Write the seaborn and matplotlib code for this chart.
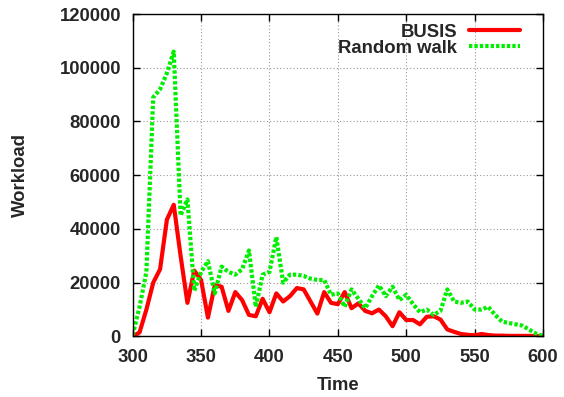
import numpy as np
import pandas as pd
import matplotlib
matplotlib.use("Agg")
import matplotlib.pyplot as plt
import seaborn as sns

# Sample times (every 5 time units)
time = list(range(300, 601, 5))

busis = [0, 1500, 10000, 20000, 25000, 43500, 49000, 30000, 12500, 24500,
         21000, 7000, 19000, 18500, 9500, 16500, 13500, 8000, 7500, 14000,
         9000, 16000, 13000, 15000, 18000, 17500, 13000, 8500, 16500, 12500,
         12000, 16500, 10500, 12300, 9500, 8600, 10000, 7500, 3800, 9000,
         6100, 6100, 4500, 7300, 7500, 6300, 2600, 1700, 900, 600,
         400, 900, 500, 300, 300, 200, 200, 200, 200, 100, 0]

random_walk = [500, 11000, 24000, 89000, 92000, 98000, 106000, 45000, 51000, 17000,
               24000, 28000, 16000, 26000, 24000, 23000, 25000, 32000, 11000, 23000,
               24000, 37000, 20000, 23000, 23000, 22500, 21500, 21000, 21000, 15500,
               16000, 11000, 17500, 14000, 10500, 15000, 19000, 15000, 18500, 13500,
               15500, 12000, 9000, 10000, 8000, 9500, 17500, 13000, 12500, 13000,
               10000, 10000, 11000, 8000, 5500, 5000, 4500, 4000, 2500, 1000, 200]

series_names = ["BUSIS", "Random walk"]
x_ticks = [300, 350, 400, 450, 500, 550, 600]
y_ticks = [0, 20000, 40000, 60000, 80000, 100000, 120000]

df = pd.concat([
    pd.DataFrame({"Time": time, "Workload": busis, "series": series_names[0]}),
    pd.DataFrame({"Time": time, "Workload": random_walk, "series": series_names[1]}),
], ignore_index=True)

sns.set_style("ticks")
plt.rcParams["font.family"] = ["Liberation Sans", "DejaVu Sans"]
plt.rcParams["font.weight"] = "bold"

fig = plt.figure(figsize=(5.64, 3.97), dpi=100)
ax = fig.add_axes([0.2353, 0.1526, 0.7275, 0.8121])

sns.lineplot(data=df, x="Time", y="Workload", hue="series", style="series",
             palette={"BUSIS": "#ff0000", "Random walk": "#00ee00"},
             dashes={"BUSIS": "", "Random walk": (0.8, 0.5)},
             linewidth=3.0, ax=ax, legend=False)

ax.set_xlim(300, 600)
ax.set_ylim(0, 120000)
ax.set_xticks(x_ticks)
ax.set_yticks(y_ticks)
ax.set_xticklabels([str(v) for v in x_ticks], fontsize=13.3, fontweight="bold")
ax.set_yticklabels([str(v) for v in y_ticks], fontsize=13.3, fontweight="bold")
ax.tick_params(direction="in", length=5, width=1, top=True, right=True,
               color="black")
ax.tick_params(axis="x", pad=9)
ax.tick_params(axis="y", pad=8.5)
ax.set_xlabel("Time", fontsize=13.3, fontweight="bold", labelpad=8)
ax.set_ylabel("Workload", fontsize=13.3, fontweight="bold", labelpad=22)

ax.grid(True, color="#999999", linewidth=0.8, linestyle=(0, (1, 2)))
for s in ax.spines.values():
    s.set_visible(True)
    s.set_color("black")
    s.set_linewidth(1.0)

handles = ax.get_lines()[:2]
leg = ax.legend(handles, series_names, loc="upper right",
                bbox_to_anchor=(0.944, 0.97), markerfirst=False, frameon=False,
                borderpad=0, borderaxespad=0, handlelength=2.75,
                handletextpad=0.65, labelspacing=-0.06,
                prop={"size": 13.3, "weight": "bold"})

fig.savefig("out.png", dpi=100)
